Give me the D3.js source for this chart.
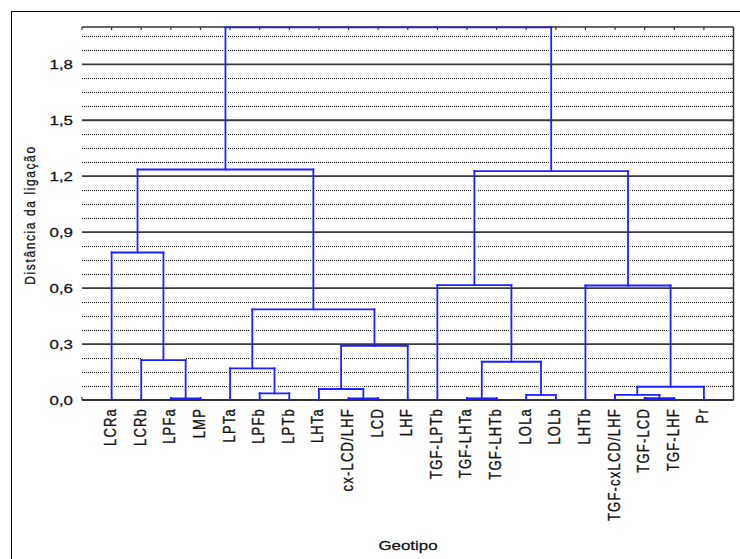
<!DOCTYPE html>
<html>
<head>
<meta charset="utf-8">
<script src="https://cdn.jsdelivr.net/npm/d3@7"></script>
<style>
  body { margin: 0; background: #fff; }
  svg { display: block; }
  text { stroke: #111; stroke-width: 0.25px; }
</style>
</head>
<body>
<div id="vis"></div>
<script>
var W = 740, H = 559;

// leaves, in the order they are drawn along the x axis
var leaves = ["LCRa", "LCRb", "LPFa", "LMP", "LPTa", "LPFb", "LPTb", "LHTa",
              "cx-LCD/LHF", "LCD", "LHF", "TGF-LPTb", "TGF-LHTa", "TGF-LHTb",
              "LOLa", "LOLb", "LHTb", "TGF-cxLCD/LHF", "TGF-LCD", "TGF-LHF", "Pr"];

// merges: ids 0..20 are leaves, merge k gets id 21 + k
var mergeLeft   = [2, 8, 12, 18, 14, 17, 5, 7, 26, 4, 23, 1, 28, 30, 11, 16, 0, 35, 37, 39];
var mergeRight  = [3, 9, 13, 19, 15, 24, 6, 22, 20, 27, 25, 21, 10, 33, 31, 29, 32, 36, 34, 38];
var mergeHeight = [0.009, 0.009, 0.009, 0.010, 0.027, 0.027, 0.036, 0.059, 0.071, 0.170,
                   0.205, 0.214, 0.291, 0.486, 0.616, 0.614, 0.791, 1.227, 1.236, 1.998];

var yTicks = [0, 0.3, 0.6, 0.9, 1.2, 1.5, 1.8];

var x = d3.scaleLinear().domain([0, leaves.length + 1]).range([82, 733.5]);
var y = d3.scaleLinear().domain([0, 2]).range([400, 27]);

var svg = d3.select("#vis").append("svg")
    .attr("width", W)
    .attr("height", H);

var font = "'Liberation Sans', Arial, sans-serif";

// outer frame (runs off the page on right and bottom)
svg.append("rect")
    .attr("x", 11.5).attr("y", 11.5)
    .attr("width", W).attr("height", H)
    .attr("fill", "none").attr("stroke", "#000").attr("stroke-width", 1);

// minor dotted grid every 0.075
var minor = d3.range(1, 27).map(function(i) { return i * 0.075; })
    .filter(function(v) { return Math.abs(v / 0.3 - Math.round(v / 0.3)) > 1e-6; });

svg.selectAll(".minor")
    .data(minor)
    .enter().append("line")
    .attr("x1", x(0)).attr("x2", x(leaves.length + 1))
    .attr("y1", function(d) { return Math.round(y(d)) + 0.5; })
    .attr("y2", function(d) { return Math.round(y(d)) + 0.5; })
    .attr("stroke", "#000")
    .attr("stroke-width", 1)
    .attr("stroke-dasharray", "1,1");

// node positions
var nodeX = leaves.map(function(d, i) { return x(i + 1); });
var nodeH = leaves.map(function() { return 0; });
mergeLeft.forEach(function(l, k) {
  var r = mergeRight[k];
  nodeX.push((nodeX[l] + nodeX[r]) / 2);
  nodeH.push(mergeHeight[k]);
});

var segs = [];
mergeLeft.forEach(function(l, k) {
  var r = mergeRight[k], h = mergeHeight[k];
  segs.push([nodeX[l], y(nodeH[l]), nodeX[l], y(h)]);
  segs.push([nodeX[r], y(nodeH[r]), nodeX[r], y(h)]);
  segs.push([nodeX[l], y(h), nodeX[r], y(h)]);
});

// white halo under the tree, cuts the dotted lines
svg.selectAll(".halo")
    .data(segs)
    .enter().append("line")
    .attr("x1", function(d) { return d[0]; })
    .attr("y1", function(d) { return d[1]; })
    .attr("x2", function(d) { return d[2]; })
    .attr("y2", function(d) { return d[3]; })
    .attr("stroke", "#fff")
    .attr("stroke-width", 5);

// major grid
svg.selectAll(".major")
    .data(yTicks.slice(1))
    .enter().append("line")
    .attr("x1", x(0)).attr("x2", x(leaves.length + 1))
    .attr("y1", function(d) { return y(d); })
    .attr("y2", function(d) { return y(d); })
    .attr("stroke", "#3a3a3a")
    .attr("stroke-width", 1.8);

// frame of the plot: top, right, bottom
svg.append("line")
    .attr("x1", x(0)).attr("x2", x(leaves.length + 1))
    .attr("y1", y(2)).attr("y2", y(2))
    .attr("stroke", "#333").attr("stroke-width", 1.5);
svg.append("line")
    .attr("x1", x(leaves.length + 1)).attr("x2", x(leaves.length + 1))
    .attr("y1", y(2)).attr("y2", y(0))
    .attr("stroke", "#333").attr("stroke-width", 1.5);
svg.append("line")
    .attr("x1", x(0)).attr("x2", x(leaves.length + 1))
    .attr("y1", y(0)).attr("y2", y(0))
    .attr("stroke", "#333").attr("stroke-width", 2);

// ticks at leaf positions on top and bottom
var tickPos = d3.range(0, leaves.length + 1);
svg.selectAll(".ttop")
    .data(tickPos)
    .enter().append("line")
    .attr("x1", function(d) { return x(d); }).attr("x2", function(d) { return x(d); })
    .attr("y1", y(2)).attr("y2", y(2) + 3)
    .attr("stroke", "#333").attr("stroke-width", 1.2);
svg.selectAll(".tbot")
    .data(tickPos)
    .enter().append("line")
    .attr("x1", function(d) { return x(d); }).attr("x2", function(d) { return x(d); })
    .attr("y1", y(0)).attr("y2", y(0) - 3)
    .attr("stroke", "#333").attr("stroke-width", 1.2);
// small ticks on the right
svg.selectAll(".tright")
    .data(minor.concat(yTicks))
    .enter().append("line")
    .attr("x1", x(leaves.length + 1)).attr("x2", x(leaves.length + 1) - 2.5)
    .attr("y1", function(d) { return y(d); }).attr("y2", function(d) { return y(d); })
    .attr("stroke", "#333").attr("stroke-width", 1);

// the tree
svg.selectAll(".seg")
    .data(segs)
    .enter().append("line")
    .attr("x1", function(d) { return d[0]; })
    .attr("y1", function(d) { return d[1]; })
    .attr("x2", function(d) { return d[2]; })
    .attr("y2", function(d) { return d[3]; })
    .attr("stroke", "#1f1fff")
    .attr("stroke-width", 1.8)
    .attr("stroke-linecap", "square");

// y tick labels
svg.selectAll(".ylab")
    .data(yTicks)
    .enter().append("text")
    .attr("transform", function(d) { return "translate(73," + (y(d) + 5) + ") scale(1.3,1)"; })
    .attr("text-anchor", "end")
    .style("font-family", font)
    .style("font-size", "13px")
    .style("fill", "#111")
    .text(function(d) { return d3.format(".1f")(d).replace(".", ","); });

// leaf labels
svg.selectAll(".xlab")
    .data(leaves)
    .enter().append("text")
    .attr("transform", function(d, i) { return "translate(" + (x(i + 1) + 4.5) + ",408) scale(1.3,1) rotate(-90)"; })
    .attr("text-anchor", "end")
    .style("font-family", font)
    .style("font-size", "13px")
    .style("letter-spacing", "1.2px")
    .style("fill", "#111")
    .text(function(d) { return d; });

// axis titles
svg.append("text")
    .attr("transform", "translate(35,215) scale(1.15,1) rotate(-90)")
    .attr("text-anchor", "middle")
    .style("font-family", font)
    .style("font-size", "12px")
    .style("letter-spacing", "1.6px")
    .style("fill", "#111")
    .text("Distância da ligação");

svg.append("text")
    .attr("transform", "translate(408,550) scale(1.3,1)")
    .attr("text-anchor", "middle")
    .style("font-family", font)
    .style("font-size", "13px")
    .style("fill", "#111")
    .text("Geotipo");
</script>
</body>
</html>
